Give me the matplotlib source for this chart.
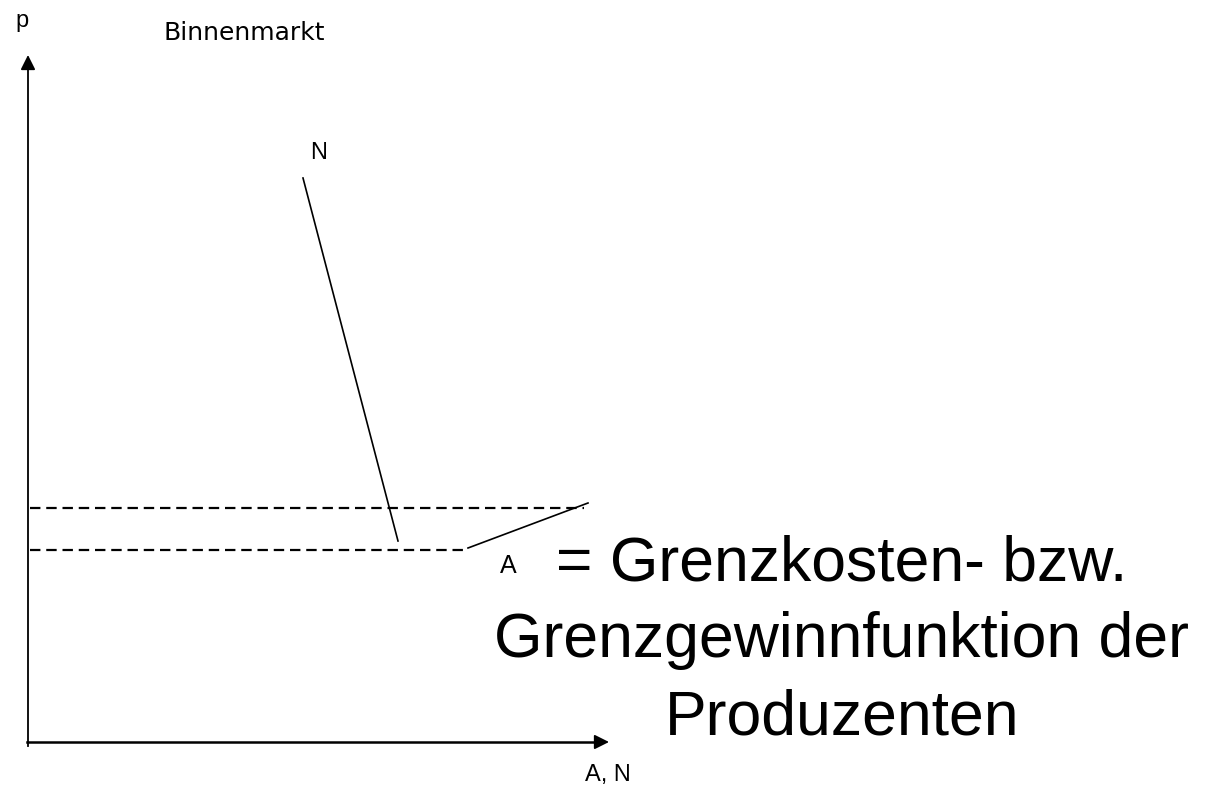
import matplotlib
matplotlib.use("Agg")
import matplotlib.pyplot as plt

plt.rcParams['font.family'] = ['Liberation Sans', 'DejaVu Sans']
plt.rcParams['lines.scale_dashes'] = False

# Diagram geometry (canvas units, y grows downward)
origin_x, origin_y = 28, 742
y_axis_top = 55
x_axis_end = 609

demand_x = [303, 398]          # N curve
demand_y = [178, 541]
supply_x = [468, 588]          # A curve
supply_y = [548, 503]

price_levels = [508, 550]      # dashed price lines
price_line_ends = [584, 467]

title_text = "Binnenmarkt"
y_label = "p"
x_label = "A, N"
note_lines = ["= Grenzkosten- bzw.", "Grenzgewinnfunktion der", "Produzenten"]

LS = ['Liberation Sans', 'DejaVu Sans']

fig = plt.figure(figsize=(12.07, 8.05), dpi=100)
ax = fig.add_axes([0, 0, 1, 1])
ax.set_xlim(0, 1207)
ax.set_ylim(805, 0)
ax.axis('off')

# axes with arrows
ax.plot([origin_x, origin_x], [origin_y + 4, y_axis_top + 12], color='black', lw=1.3)
ax.annotate('', xy=(origin_x, y_axis_top), xytext=(origin_x, y_axis_top + 14),
            arrowprops=dict(arrowstyle='-|>', mutation_scale=22, lw=1.3, color='black',
                            shrinkA=0, shrinkB=0))
ax.plot([origin_x - 1, x_axis_end - 12], [origin_y, origin_y], color='black', lw=1.8)
ax.annotate('', xy=(x_axis_end, origin_y), xytext=(x_axis_end - 14, origin_y),
            arrowprops=dict(arrowstyle='-|>', mutation_scale=22, lw=1.3, color='black',
                            shrinkA=0, shrinkB=0))

# dashed price lines
for lvl, end in zip(price_levels, price_line_ends):
    ax.plot([origin_x + 2, end], [lvl, lvl], color='black', lw=1.6,
            linestyle=(0, (7.5, 4.2)))

# curves
ax.plot(demand_x, demand_y, color='black', lw=1.2)
ax.plot(supply_x, supply_y, color='black', lw=1.2)

# labels
ax.text(15, 21, y_label, fontsize=17, ha='left', va='center', family=LS)
ax.text(164, 33, title_text, fontsize=18, ha='left', va='center',
        family=['DejaVu Sans'])
ax.text(319, 153, "N", fontsize=17, ha='center', va='center', family=LS)
ax.text(508, 566, "A", fontsize=18, ha='center', va='center', family=LS)
ax.text(608, 775, x_label, fontsize=17, ha='center', va='center', family=LS)

baselines = [580, 657, 734]
for line, b in zip(note_lines, baselines):
    ax.text(842, b, line, fontsize=45, ha='center', va='baseline', family=LS)

fig.savefig('out.png', dpi=100)
